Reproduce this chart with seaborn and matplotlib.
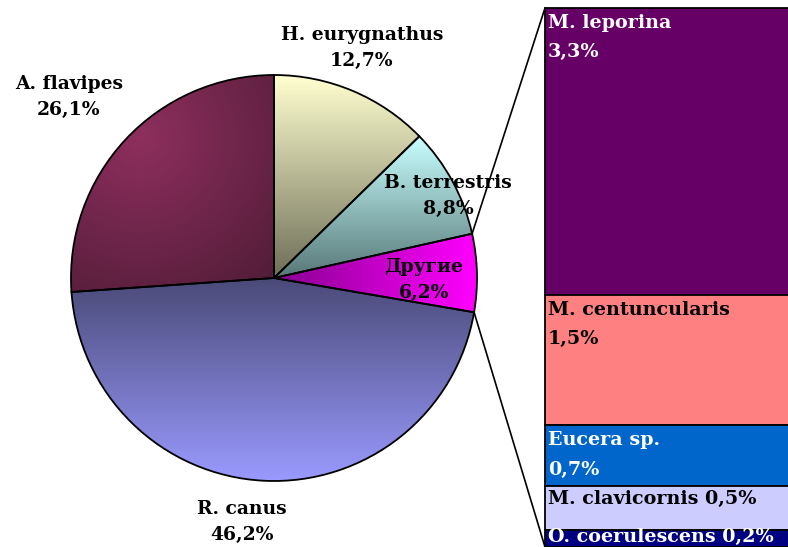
import numpy as np
import matplotlib
matplotlib.use("Agg")
import matplotlib.pyplot as plt
import seaborn as sns

# dane: główny wykres kołowy
labels = ["A. flavipes", "R. canus", "Другие", "B. terrestris", "H. eurygnathus"]
values = [26.1, 46.2, 6.2, 8.8, 12.7]

# rozbicie kategorii "Другие"
other_labels = ["M. leporina", "M. centuncularis", "Eucera sp.", "M. clavicornis", "O. coerulescens"]
other_values = [3.3, 1.5, 0.7, 0.5, 0.2]


def pct(v):
    return f"{v:.1f}".replace(".", ",") + "%"


sns.set_theme(style="white")
plt.rcParams["font.family"] = ["DejaVu Serif"]
plt.rcParams["font.weight"] = "bold"

fig = plt.figure(figsize=(7.88, 5.47), dpi=100)
ax = fig.add_axes([0, 0, 1, 1])

center = (274, 269)
R = 203
wedges, _ = ax.pie(values, startangle=90, counterclock=True, center=center, radius=R,
                   wedgeprops=dict(edgecolor="black", linewidth=1.3, facecolor="none"))
ax.set_aspect("equal")
ax.axis("off")

# gradienty wypełnienia (w stylu Excela)
xs = np.linspace(center[0] - R, center[0] + R, 400)
ys = np.linspace(center[1] - R, center[1] + R, 400)
X, Y = np.meshgrid(xs, ys)
fills = {
    "A. flavipes": ("radial", ["#8e2f5e", "#4a1a33"]),
    "R. canus": ("vert", ["#9a9aff", "#4a4a78"]),
    "Другие": ("horiz", ["#880090", "#ff00ff"]),
    "B. terrestris": ("vert", ["#587878", "#c8ffff"]),
    "H. eurygnathus": ("vert", ["#6e6e58", "#ffffd0"]),
}
for w, lab in zip(wedges, labels):
    kind, cols = fills[lab]
    cmap = sns.blend_palette(cols, as_cmap=True)
    ext = w.get_path().get_extents()
    if kind == "radial":
        t = np.hypot(X - 140, Y - 410) / 220
    elif kind == "vert":
        t = (Y - ext.y0) / (ext.y1 - ext.y0)
    else:
        t = (X - ext.x0) / (ext.x1 - ext.x0)
    im = ax.imshow(np.clip(t, 0, 1), cmap=cmap, vmin=0, vmax=1, origin="lower",
                   extent=(xs[0], xs[-1], ys[0], ys[-1]), zorder=0.5, interpolation="bilinear")
    im.set_clip_path(w)

ax.set_xlim(0, 788)
ax.set_ylim(0, 547)

# etykiety głównego koła
label_pos = {
    "A. flavipes": (69, 450),
    "H. eurygnathus": (362, 499),
    "B. terrestris": (448, 351),
    "Другие": (424, 267),
    "R. canus": (242, 25),
}
for lab, v in zip(labels, values):
    x, y = label_pos[lab]
    ax.text(x, y, f"{lab}\n{pct(v)}", ha="center", va="center", fontsize=13.5,
            fontweight="bold", linespacing=1.55, color="black", zorder=5)

# słupek rozbicia
bar_x, bar_w = 545, 250
scale = 539 / sum(other_values)
bar_colors = ["#660066", "#ff8080", "#0066cc", "#ccccff", "#000080"]
text_colors = ["white", "black", "white", "black", "white"]
heights = [v * scale for v in other_values]
bottoms = 539 - np.cumsum(heights)
ax.bar([bar_x] * len(other_values), heights, bottom=bottoms, width=bar_w, align="edge",
       color=bar_colors, edgecolor="black", linewidth=1.3, zorder=2)
for lab, v, b, h, tc in zip(other_labels, other_values, bottoms, heights, text_colors):
    if v >= 0.7:
        txt, va, ty = f"{lab}\n{pct(v)}", "top", b + h - 6
    elif v >= 0.5:
        txt, va, ty = f"{lab} {pct(v)}", "top", b + h - 4
    else:
        txt, va, ty = f"{lab} {pct(v)}", "bottom", b + 1
    ax.text(bar_x + 3, ty, txt, ha="left", va=va, fontsize=13.8, fontweight="bold",
            color=tc, linespacing=1.8, zorder=5)

# linie łączące
w = wedges[2]
for th, yb in [(w.theta2, 539), (w.theta1, 0)]:
    px = center[0] + R * np.cos(np.radians(th))
    py = center[1] + R * np.sin(np.radians(th))
    ax.plot([px, bar_x], [py, yb], color="black", linewidth=1.2, zorder=3)

fig.savefig("out.png", dpi=100)
